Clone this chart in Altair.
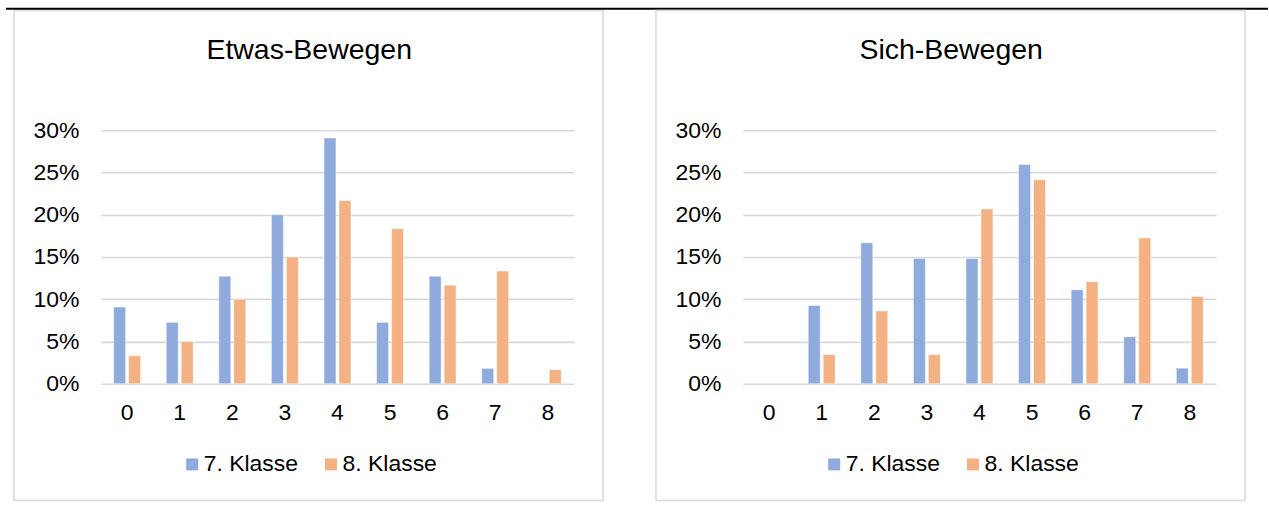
import altair as alt
import pandas as pd

# ---- data ----
categories = [0, 1, 2, 3, 4, 5, 6, 7, 8]
groups = ["7. Klasse", "8. Klasse"]
colors = ["#8FAADC", "#F4B183"]
titles = ["Etwas-Bewegen", "Sich-Bewegen"]
etwas_7 = [9.09, 7.27, 12.73, 20.00, 29.09, 7.27, 12.73, 1.82, 0.0]
etwas_8 = [3.33, 5.00, 10.00, 15.00, 21.67, 18.33, 11.67, 13.33, 1.67]
sich_7 = [0.0, 9.26, 16.67, 14.81, 14.81, 25.93, 11.11, 5.56, 1.85]
sich_8 = [0.0, 3.45, 8.62, 3.45, 20.69, 24.14, 12.07, 17.24, 10.34]
y_ticks = [0, 5, 10, 15, 20, 25, 30]

FONT = "Liberation Sans"
GRID = "#d9d9d9"
W, H = 474, 254


def panel(title, v7, v8, with_topline=False):
    df = pd.DataFrame({
        "cat": categories * 2,
        "klasse": [groups[0]] * len(categories) + [groups[1]] * len(categories),
        "value": v7 + v8,
    })
    bars = alt.Chart(df).transform_filter("datum.value > 0").mark_bar(
        stroke="white", strokeWidth=0.8, strokeOpacity=0.6
    ).encode(
        x=alt.X("cat:O", scale=alt.Scale(domain=categories, paddingInner=0, paddingOuter=0),
                axis=alt.Axis(title=None, labelAngle=0, domain=False, ticks=False, tickSize=0,
                              labelPadding=18, labelFontSize=23, labelFont=FONT,
                              labelColor="black", grid=False)),
        xOffset=alt.XOffset("klasse:N", scale=alt.Scale(domain=groups, paddingInner=0.2,
                                                        paddingOuter=0.856)),
        y=alt.Y("value:Q", scale=alt.Scale(domain=[0, 30], nice=False, zero=True),
                axis=alt.Axis(title=None, values=y_ticks, labelExpr="datum.value + '%'",
                              grid=True, gridColor=GRID, gridWidth=1.6, domain=False,
                              ticks=False, tickSize=0, labelPadding=22, labelFontSize=23,
                              labelFont=FONT, labelColor="black")),
        color=alt.Color("klasse:N", scale=alt.Scale(domain=groups, range=colors),
                        legend=alt.Legend(title=None, orient="none", legendX=80, legendY=323,
                                          direction="horizontal", symbolType="square",
                                          symbolSize=144, symbolStrokeWidth=0,
                                          labelFontSize=23, labelFont=FONT, labelColor="black",
                                          labelOffset=0, columnPadding=21, padding=0)),
    )
    border = alt.Chart(pd.DataFrame({"b": [0]})).mark_rect(
        fillOpacity=0, stroke=GRID, strokeWidth=1.5
    ).encode(x=alt.value(-87), x2=alt.value(503), y=alt.value(-120), y2=alt.value(371))
    ttl = alt.Chart(pd.DataFrame({"t": [title]})).mark_text(
        font=FONT, fontSize=28.5, align="center", baseline="alphabetic", color="black"
    ).encode(text="t:N", x=alt.value(208.7), y=alt.value(-71.7))
    layers = [border, bars, ttl]
    if with_topline:
        line = alt.Chart(pd.DataFrame({"l": [0]})).mark_rule(color="black", strokeWidth=2).encode(
            x=alt.value(-95), x2=alt.value(1169), y=alt.value(-121.7))
        layers.append(line)
    return alt.layer(*layers).properties(width=W, height=H)


left = panel(titles[0], etwas_7, etwas_8, with_topline=True)
right = panel(titles[1], sich_7, sich_8)

chart = alt.hconcat(left, right, spacing=169, bounds="flush").resolve_scale(
    color="independent").resolve_legend(color="independent").properties(
    padding={"left": 5, "top": 7, "right": 0, "bottom": 0},
    autosize=alt.AutoSizeParams(type="pad"),
    background="white",
).configure_view(strokeWidth=0)

chart.save("out.html", embed_options={"renderer": "svg", "actions": False})
